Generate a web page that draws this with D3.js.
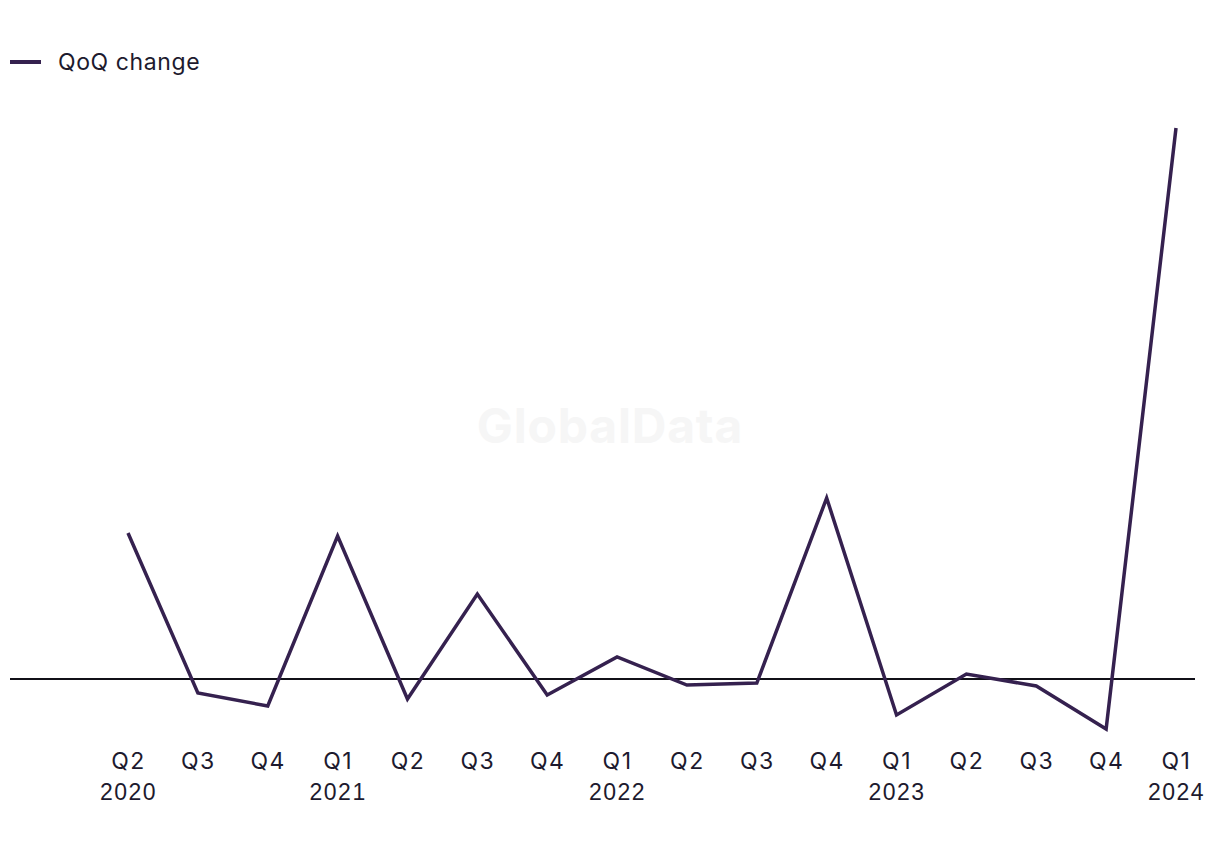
<!DOCTYPE html>
<html>
<head>
<meta charset="utf-8">
<script src="https://cdn.jsdelivr.net/npm/d3@7"></script>
<style>
  html, body { margin: 0; padding: 0; background: #fff; }
  svg { display: block; font-family: Inter, "Noto Sans", sans-serif; }
</style>
</head>
<body>
<svg id="chart" width="1220" height="850"></svg>
<script>
const quarters = ["Q2","Q3","Q4","Q1","Q2","Q3","Q4","Q1","Q2","Q3","Q4","Q1","Q2","Q3","Q4","Q1"];
const years    = ["2020","","","2021","","","","2022","","","","2023","","","","2024"];
const qoqChange = [146, -14, -27, 143, -20, 85, -16, 22, -6, -4, 181, -36, 5, -7, -50, 551];
const seriesName = "QoQ change";

const svg = d3.select("#chart");
const keys = quarters.map((q, i) => i);

const x = d3.scalePoint().domain(keys).range([128, 1176]);
const y = d3.scaleLinear().domain([-50, 551]).range([729, 128]);

// watermark
svg.append("text")
  .attr("x", 610).attr("y", 443)
  .attr("text-anchor", "middle")
  .attr("font-size", 48).attr("font-weight", 700)
  .attr("letter-spacing", 0.8)
  .attr("fill", "#f6f6f6")
  .text("GlobalData");

// zero line
svg.append("line")
  .attr("x1", 10).attr("x2", 1195)
  .attr("y1", y(0)).attr("y2", y(0))
  .attr("stroke", "#111018").attr("stroke-width", 1.8);

// line
const line = d3.line().x((d, i) => x(i)).y(d => y(d));
svg.append("path")
  .datum(qoqChange)
  .attr("d", line)
  .attr("fill", "none")
  .attr("stroke", "#35214f")
  .attr("stroke-width", 3.5)
  .attr("stroke-linejoin", "miter");

// x axis labels
const axis = d3.axisBottom(x).tickSize(0).tickPadding(0).tickFormat(i => quarters[i]);
const gx = svg.append("g").attr("transform", "translate(0,769)").call(axis);
gx.select(".domain").remove();
gx.selectAll(".tick text")
  .attr("font-size", 23).attr("fill", "#1d1a2e")
  .attr("letter-spacing", 1.5)
  .attr("font-family", "Inter, 'Noto Sans', sans-serif")
  .attr("y", 0).attr("dy", 0)
  .each(function(i) {
    if (years[i]) {
      d3.select(this.parentNode).append("text")
        .attr("y", 31)
        .attr("text-anchor", "middle")
        .attr("font-size", 23).attr("fill", "#1d1a2e")
        .attr("letter-spacing", 1.5)
        .text(years[i]);
    }
  });

// legend
const lg = svg.append("g").attr("transform", "translate(10,62)");
lg.append("line").attr("x1", 0).attr("x2", 31).attr("y1", 0).attr("y2", 0)
  .attr("stroke", "#35214f").attr("stroke-width", 4);
lg.append("text").attr("x", 48).attr("y", 0).attr("dy", "0.35em")
  .attr("font-size", 23).attr("letter-spacing", 0.6)
  .attr("fill", "#1d1a2e").text(seriesName);
</script>
</body>
</html>
